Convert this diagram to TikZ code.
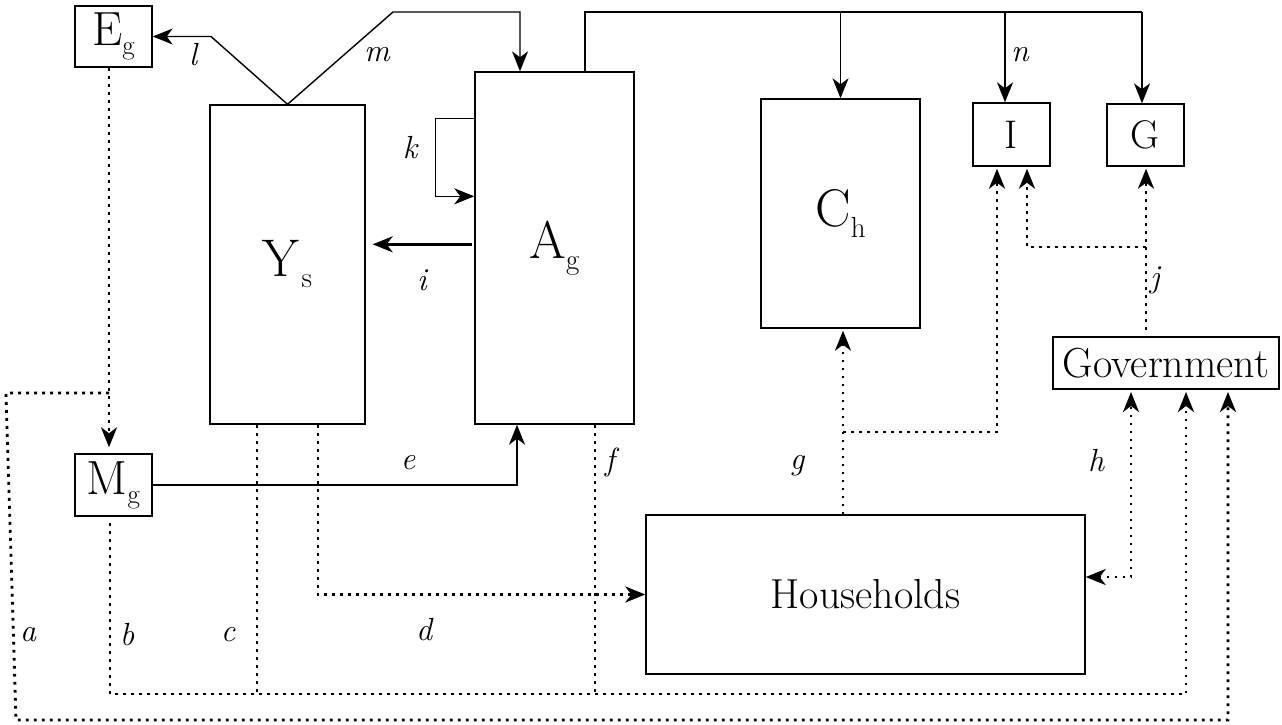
\documentclass[tikz,border=0pt]{standalone}
\usepackage{fontspec}
\usetikzlibrary{arrows.meta,calc}
\begin{document}
\begin{tikzpicture}[x=1pt,y=-1pt,
  box/.style={draw,line width=1.4pt,inner sep=0pt,align=center},
  solidc/.style={line width=1.4pt},
  tip/.style={-{Stealth[length=20pt,width=16pt,inset=6pt]}},
  dotc/.style={line width=2.8pt,dash pattern=on 2.8pt off 5.2pt},
  lab/.style={font=\fontsize{32}{34}\selectfont\itshape}
]
\useasboundingbox (0,0) rectangle (1282,724);
% boxes
\node[box,minimum width=77pt,minimum height=61pt,font=\fontsize{48}{50}\selectfont] (Eg) at (113.5,36.5) {E\raisebox{-9pt}{\fontsize{27}{27}\selectfont g}};
\node[box,minimum width=77pt,minimum height=62pt,font=\fontsize{48}{50}\selectfont] (Mg) at (113.5,485) {M\raisebox{-9pt}{\fontsize{27}{27}\selectfont g}};
\node[box,minimum width=155pt,minimum height=319pt,font=\fontsize{53}{56}\selectfont] (Ys) at (287.5,264.5) {Y\kern2pt\raisebox{-11pt}{\fontsize{29}{29}\selectfont s}};
\node[box,minimum width=159pt,minimum height=352pt,font=\fontsize{53}{56}\selectfont] (Ag) at (554.5,248) {A\raisebox{-11pt}{\fontsize{29}{29}\selectfont g}};
\node[box,minimum width=159pt,minimum height=229pt,font=\fontsize{53}{56}\selectfont] (Ch) at (840.5,213.5) {C\raisebox{-11pt}{\fontsize{29}{29}\selectfont h}};
\node[box,minimum width=77pt,minimum height=63pt,font=\fontsize{40}{42}\selectfont] (I) at (1011.5,134.5) {I};
\node[box,minimum width=77pt,minimum height=62pt,font=\fontsize{40}{42}\selectfont] (G) at (1145.5,135) {G};
\node[box,minimum width=226pt,minimum height=52pt,font=\fontsize{42}{44}\selectfont] (Gov) at (1166,363) {Government};
\node[box,minimum width=439pt,minimum height=159pt,font=\fontsize{42}{44}\selectfont] (HH) at (865.5,594.5) {Households};
% coordinates
\coordinate (mtop) at (520,12);
\coordinate (tl) at (585,12);
\coordinate (tr) at (1142,12);
\coordinate (iN) at (1005,12);
\coordinate (ecorner) at (517,485);
% solid connectors
\draw[solidc,tip] (Ys.north) -- (211,36.5) -- (Eg.east);
\draw[solidc,tip] (Ys.north) -- (393,12) -- (mtop) -- (mtop |- Ag.north);
\draw[solidc] (tl |- Ag.north) -- (tl) -- (tr);
\draw[solidc,tip] (Ch.north |- tl) -- (Ch.north);
\draw[solidc,tip] (iN) -- (iN |- I.north);
\draw[solidc,tip] (tr) -- (tr |- G.north);
\draw[solidc,tip] ($(Ag.north west)+(0,47)$) -- ++(-39,0) -- ++(0,78) -- ($(Ag.north west)+(0,125)$);
\draw[line width=2.4pt,tip] ($(Ag.north west)+(-2,173)$) -- ($(Ys.north east)+(7,140)$);
\draw[solidc,tip] (Mg.east |- ecorner) -- (ecorner) -- (ecorner |- Ag.south);
% dotted connectors
\draw[dotc,tip,shorten >=6pt] ($(Eg.south)+(-4.5,0)$) -- ($(Mg.north)+(-4.5,0)$);
\draw[dotc,tip,shorten >=3pt] (109,393) -- (6,393) -- (16,720) -- (1228,720) -- (1228,389);
\draw[dotc,tip,shorten >=3pt] ($(Mg.south)+(-3.5,6)$) -- (110,694) -- (1186,694) -- (1186,389);
\draw[dotc] ($(Ys.south)+(-30.5,0)$) -- (257,694);
\draw[dotc,tip] ($(Ys.south)+(30.5,0)$) -- (318,594.5) -- (HH.west);
\draw[dotc] ($(Ag.south)+(40.5,0)$) -- (595,694);
\draw[dotc,tip,shorten >=2pt] (HH.north -| 843,0) -- (Ch.south -| 843,0);
\draw[dotc,tip,shorten >=2pt] (843,432) -- (997,432) -- (I.south -| 997,0);
\draw[dotc,{Stealth[length=20pt,width=16pt,inset=6pt]}-{Stealth[length=20pt,width=16pt,inset=6pt]},shorten >=3pt] ($(HH.east)+(0,-17.5)$) -- (1131,577) -- (1131,389);
\draw[dotc,tip,shorten >=2pt] (1146,330) -- (G.south -| 1146,0);
\draw[dotc,tip,shorten >=2pt] (1146,247) -- (1027,247) -- (I.south -| 1027,0);
% labels
\node[lab] (la) at (28,635) {a};
\node[lab] (lb) at (127,635) {b};
\node[lab] (lc) at (228,635) {c};
\node[lab] (ld) at (424,630) {d};
\node[lab] (le) at (408,463) {e};
\node[lab] (lf) at (610,462) {f};
\node[lab] (lg) at (797,466) {g};
\node[lab] (lh) at (1096,461) {h};
\node[lab] (li) at (422,280) {i};
\node[lab] (lj) at (1155,280) {j};
\node[lab] (lk) at (410,148) {k};
\node[lab] (ll) at (193,55) {l};
\node[lab] (lm) at (377,55) {m};
\node[lab] (ln) at (1020,55) {n};
\end{tikzpicture}
\end{document}
